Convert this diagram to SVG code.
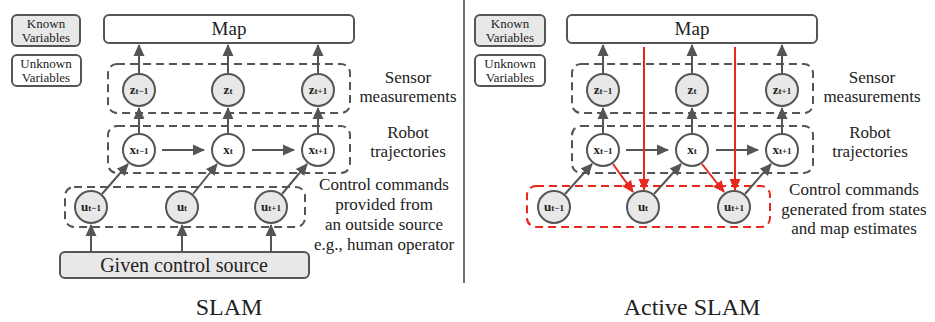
<svg xmlns="http://www.w3.org/2000/svg" width="935" height="322" viewBox="0 0 935 322" font-family="Liberation Serif">
<defs>
<marker id="ag" viewBox="0 0 12 12" refX="11" refY="6" markerWidth="12" markerHeight="12" markerUnits="userSpaceOnUse" orient="auto"><path d="M0,0.5 L12,6 L0,11.5 z" fill="#555"/></marker>
<marker id="ar" viewBox="0 0 12 12" refX="11" refY="6" markerWidth="12" markerHeight="12" markerUnits="userSpaceOnUse" orient="auto"><path d="M0,0.5 L12,6 L0,11.5 z" fill="#e8281e"/></marker>
<style>
.box{stroke:#555;stroke-width:2}
.known{fill:#e8e8e8}
.unk{fill:#fff}
.dash{fill:none;stroke:#555;stroke-width:2;stroke-dasharray:8 5}
.rdash{fill:none;stroke:#e8281e;stroke-width:2;stroke-dasharray:8 5}
.c{stroke:#555;stroke-width:2}
.g{stroke:#555;stroke-width:2;fill:none;marker-end:url(#ag)}
.r{stroke:#e8281e;stroke-width:2;fill:none;marker-end:url(#ar)}
</style>
</defs>

<line x1="464" y1="0" x2="464" y2="283" stroke="#444" stroke-width="1.5"/>

<!-- LEFT PANEL -->
<g id="legend-known-l"><rect class="box known" x="12" y="15" width="68" height="31" rx="5"/><text style="font-family:'Liberation Serif'" font-size="13" text-anchor="middle" fill="#222" x="46" y="28">Known</text><text style="font-family:'Liberation Serif'" font-size="13" text-anchor="middle" fill="#222" x="46" y="42">Variables</text></g>
<g id="legend-unknown-l"><rect class="box unk" x="12" y="55" width="69" height="31" rx="5"/><text style="font-family:'Liberation Serif'" font-size="13" text-anchor="middle" fill="#222" x="46" y="68">Unknown</text><text style="font-family:'Liberation Serif'" font-size="13" text-anchor="middle" fill="#222" x="46" y="82">Variables</text></g>
<g id="map-l"><rect class="box unk" x="104" y="15" width="250" height="28" rx="5"/><text style="font-family:'Liberation Serif'" font-size="19" text-anchor="middle" fill="#222" x="229" y="35">Map</text></g>
<g id="sensor-l"><rect class="dash" x="108" y="64" width="242" height="49" rx="9"/><text style="font-family:'Liberation Serif'" font-size="17" text-anchor="middle" fill="#222" x="408" y="83">Sensor</text><text style="font-family:'Liberation Serif'" font-size="17" text-anchor="middle" fill="#222" x="408" y="102">measurements</text></g>
<g id="robot-l"><rect class="dash" x="108" y="126" width="242" height="47" rx="9"/><text style="font-family:'Liberation Serif'" font-size="17" text-anchor="middle" fill="#222" x="408" y="138">Robot</text><text style="font-family:'Liberation Serif'" font-size="17" text-anchor="middle" fill="#222" x="408" y="157">trajectories</text></g>
<g id="control-l"><rect class="dash" x="65" y="187" width="240" height="40" rx="9"/><text style="font-family:'Liberation Serif'" font-size="17" text-anchor="middle" fill="#222" x="384" y="190">Control commands</text><text style="font-family:'Liberation Serif'" font-size="17" text-anchor="middle" fill="#222" x="384" y="210">provided from</text><text style="font-family:'Liberation Serif'" font-size="17" text-anchor="middle" fill="#222" x="384" y="230">an outside source</text><text style="font-family:'Liberation Serif'" font-size="17" text-anchor="middle" fill="#222" x="384" y="250">e.g., human operator</text></g>
<g id="source-l"><rect class="box known" x="60" y="252" width="249" height="26" rx="5"/><text style="font-family:'Liberation Serif'" font-size="20" text-anchor="middle" fill="#222" x="184" y="272">Given control source</text></g>
<g id="z1-l"><circle class="c known" cx="139" cy="90" r="16"/><text style="font-family:'Liberation Serif'" font-size="13" font-weight="bold" text-anchor="middle" fill="#222" x="139" y="94">z<tspan font-size="9">t−1</tspan></text></g>
<g id="z2-l"><circle class="c known" cx="228" cy="90" r="16"/><text style="font-family:'Liberation Serif'" font-size="13" font-weight="bold" text-anchor="middle" fill="#222" x="228" y="94">z<tspan font-size="9">t</tspan></text></g>
<g id="z3-l"><circle class="c known" cx="318" cy="90" r="16"/><text style="font-family:'Liberation Serif'" font-size="13" font-weight="bold" text-anchor="middle" fill="#222" x="318" y="94">z<tspan font-size="9">t+1</tspan></text></g>
<g id="x1-l"><circle class="c unk" cx="139" cy="150" r="16"/><text style="font-family:'Liberation Serif'" font-size="13" font-weight="bold" text-anchor="middle" fill="#222" x="139" y="154">x<tspan font-size="9">t−1</tspan></text></g>
<g id="x2-l"><circle class="c unk" cx="228" cy="150" r="16"/><text style="font-family:'Liberation Serif'" font-size="13" font-weight="bold" text-anchor="middle" fill="#222" x="228" y="154">x<tspan font-size="9">t</tspan></text></g>
<g id="x3-l"><circle class="c unk" cx="318" cy="150" r="16"/><text style="font-family:'Liberation Serif'" font-size="13" font-weight="bold" text-anchor="middle" fill="#222" x="318" y="154">x<tspan font-size="9">t+1</tspan></text></g>
<g id="u1-l"><circle class="c known" cx="91" cy="207" r="16"/><text style="font-family:'Liberation Serif'" font-size="13" font-weight="bold" text-anchor="middle" fill="#222" x="91" y="211">u<tspan font-size="9">t−1</tspan></text></g>
<g id="u2-l"><circle class="c known" cx="182" cy="207" r="16"/><text style="font-family:'Liberation Serif'" font-size="13" font-weight="bold" text-anchor="middle" fill="#222" x="182" y="211">u<tspan font-size="9">t</tspan></text></g>
<g id="u3-l"><circle class="c known" cx="271" cy="207" r="16"/><text style="font-family:'Liberation Serif'" font-size="13" font-weight="bold" text-anchor="middle" fill="#222" x="271" y="211">u<tspan font-size="9">t+1</tspan></text></g>
<g id="title-l"><text style="font-family:'Liberation Serif'" font-size="24" text-anchor="middle" fill="#222" x="229" y="315">SLAM</text></g>

<!-- RIGHT PANEL -->
<g id="legend-known-r"><rect class="box known" x="475" y="15" width="70" height="31" rx="5"/><text style="font-family:'Liberation Serif'" font-size="13" text-anchor="middle" fill="#222" x="510" y="28">Known</text><text style="font-family:'Liberation Serif'" font-size="13" text-anchor="middle" fill="#222" x="510" y="42">Variables</text></g>
<g id="legend-unknown-r"><rect class="box unk" x="475" y="55" width="70" height="31" rx="5"/><text style="font-family:'Liberation Serif'" font-size="13" text-anchor="middle" fill="#222" x="510" y="68">Unknown</text><text style="font-family:'Liberation Serif'" font-size="13" text-anchor="middle" fill="#222" x="510" y="82">Variables</text></g>
<g id="map-r"><rect class="box unk" x="567" y="15" width="250" height="28" rx="5"/><text style="font-family:'Liberation Serif'" font-size="19" text-anchor="middle" fill="#222" x="692" y="35">Map</text></g>
<g id="sensor-r"><rect class="dash" x="572" y="64" width="241" height="49" rx="9"/><text style="font-family:'Liberation Serif'" font-size="17" text-anchor="middle" fill="#222" x="872" y="83">Sensor</text><text style="font-family:'Liberation Serif'" font-size="17" text-anchor="middle" fill="#222" x="872" y="102">measurements</text></g>
<g id="robot-r"><rect class="dash" x="572" y="126" width="241" height="47" rx="9"/><text style="font-family:'Liberation Serif'" font-size="17" text-anchor="middle" fill="#222" x="870" y="138">Robot</text><text style="font-family:'Liberation Serif'" font-size="17" text-anchor="middle" fill="#222" x="870" y="157">trajectories</text></g>
<g id="control-r"><rect class="rdash" x="527" y="186" width="243" height="41" rx="9"/><text style="font-family:'Liberation Serif'" font-size="17" text-anchor="middle" fill="#222" x="854" y="195">Control commands</text><text style="font-family:'Liberation Serif'" font-size="17" text-anchor="middle" fill="#222" x="854" y="215">generated from states</text><text style="font-family:'Liberation Serif'" font-size="17" text-anchor="middle" fill="#222" x="854" y="234">and map estimates</text></g>
<g id="z1-r"><circle class="c known" cx="603" cy="90" r="16"/><text style="font-family:'Liberation Serif'" font-size="13" font-weight="bold" text-anchor="middle" fill="#222" x="603" y="94">z<tspan font-size="9">t−1</tspan></text></g>
<g id="z2-r"><circle class="c known" cx="692" cy="90" r="16"/><text style="font-family:'Liberation Serif'" font-size="13" font-weight="bold" text-anchor="middle" fill="#222" x="692" y="94">z<tspan font-size="9">t</tspan></text></g>
<g id="z3-r"><circle class="c known" cx="782" cy="90" r="16"/><text style="font-family:'Liberation Serif'" font-size="13" font-weight="bold" text-anchor="middle" fill="#222" x="782" y="94">z<tspan font-size="9">t+1</tspan></text></g>
<g id="x1-r"><circle class="c unk" cx="603" cy="150" r="16"/><text style="font-family:'Liberation Serif'" font-size="13" font-weight="bold" text-anchor="middle" fill="#222" x="603" y="154">x<tspan font-size="9">t−1</tspan></text></g>
<g id="x2-r"><circle class="c unk" cx="692" cy="150" r="16"/><text style="font-family:'Liberation Serif'" font-size="13" font-weight="bold" text-anchor="middle" fill="#222" x="692" y="154">x<tspan font-size="9">t</tspan></text></g>
<g id="x3-r"><circle class="c unk" cx="782" cy="150" r="16"/><text style="font-family:'Liberation Serif'" font-size="13" font-weight="bold" text-anchor="middle" fill="#222" x="782" y="154">x<tspan font-size="9">t+1</tspan></text></g>
<g id="u1-r"><circle class="c known" cx="554" cy="207" r="16"/><text style="font-family:'Liberation Serif'" font-size="13" font-weight="bold" text-anchor="middle" fill="#222" x="554" y="211">u<tspan font-size="9">t−1</tspan></text></g>
<g id="u2-r"><circle class="c known" cx="643" cy="207" r="16"/><text style="font-family:'Liberation Serif'" font-size="13" font-weight="bold" text-anchor="middle" fill="#222" x="643" y="211">u<tspan font-size="9">t</tspan></text></g>
<g id="u3-r"><circle class="c known" cx="734" cy="207" r="16"/><text style="font-family:'Liberation Serif'" font-size="13" font-weight="bold" text-anchor="middle" fill="#222" x="734" y="211">u<tspan font-size="9">t+1</tspan></text></g>
<g id="title-r"><text style="font-family:'Liberation Serif'" font-size="24" text-anchor="middle" fill="#222" x="692" y="315">Active SLAM</text></g>

<!-- CONNECTORS -->
<g id="connectors">
<line class="g" x1="139" y1="73" x2="139" y2="45"/>
<line class="g" x1="228" y1="73" x2="228" y2="45"/>
<line class="g" x1="318" y1="73" x2="318" y2="45"/>
<line class="g" x1="139" y1="133" x2="139" y2="108"/>
<line class="g" x1="228" y1="133" x2="228" y2="108"/>
<line class="g" x1="318" y1="133" x2="318" y2="108"/>
<line class="g" x1="162" y1="150" x2="204" y2="150"/>
<line class="g" x1="252" y1="150" x2="294" y2="150"/>
<line class="g" x1="102" y1="194" x2="128" y2="164"/>
<line class="g" x1="193" y1="194" x2="217" y2="164"/>
<line class="g" x1="282" y1="194" x2="307" y2="164"/>
<line class="g" x1="91" y1="252" x2="91" y2="225"/>
<line class="g" x1="182" y1="252" x2="182" y2="225"/>
<line class="g" x1="271" y1="252" x2="271" y2="225"/>

<line class="g" x1="603" y1="73" x2="603" y2="45"/>
<line class="g" x1="692" y1="73" x2="692" y2="45"/>
<line class="g" x1="782" y1="73" x2="782" y2="45"/>
<line class="g" x1="603" y1="133" x2="603" y2="108"/>
<line class="g" x1="692" y1="133" x2="692" y2="108"/>
<line class="g" x1="782" y1="133" x2="782" y2="108"/>
<line class="g" x1="626" y1="150" x2="668" y2="150"/>
<line class="g" x1="716" y1="150" x2="758" y2="150"/>
<line class="g" x1="565" y1="194" x2="592" y2="164"/>
<line class="g" x1="654" y1="194" x2="681" y2="164"/>
<line class="g" x1="745" y1="194" x2="771" y2="164"/>

<line class="r" x1="644" y1="47" x2="644" y2="190"/>
<line class="r" x1="735" y1="47" x2="735" y2="190"/>
<line class="r" x1="613" y1="164" x2="633" y2="192"/>
<line class="r" x1="702" y1="164" x2="724" y2="192"/>
</g>
</svg>
